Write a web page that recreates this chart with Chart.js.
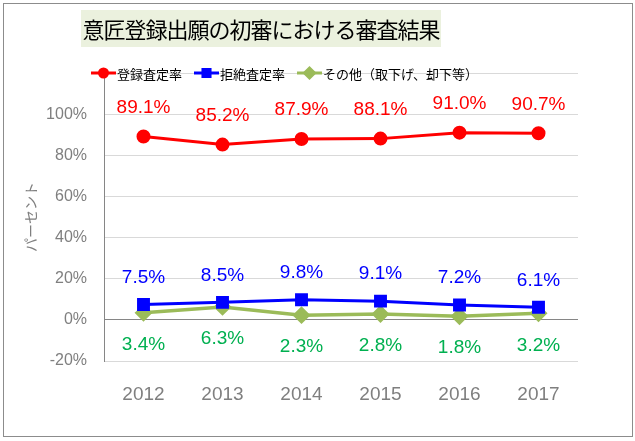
<!DOCTYPE html>
<html>
<head>
<meta charset="utf-8">
<script src="https://cdn.jsdelivr.net/npm/chart.js@4"></script>
<style>
  html, body { margin: 0; padding: 0; background: #fff; }
  #wrap { position: relative; width: 635px; height: 441px; }
  #frame { position: absolute; left: 3px; top: 3px; width: 628px; height: 432px;
           border: 1px solid #8c8c8c; pointer-events: none; }
  #title { position: absolute; left: 81px; top: 10px; width: 360px; height: 37px;
           background: #ebf1de; color: #000; font-family: "Noto Sans CJK JP", sans-serif;
           font-size: 22px; line-height: 37px; text-align: center; letter-spacing: -1px; }
</style>
</head>
<body>
<div id="wrap">
  <canvas id="resultChart" width="635" height="441"></canvas>
  <div id="title">意匠登録出願の初審における審査結果</div>
  <div id="frame"></div>
</div>
<script>
var years = ['2012', '2013', '2014', '2015', '2016', '2017'];
var registered = [89.1, 85.2, 87.9, 88.1, 91.0, 90.7];
var rejected = [7.5, 8.5, 9.8, 9.1, 7.2, 6.1];
var others = [3.4, 6.3, 2.3, 2.8, 1.8, 3.2];
var seriesNames = ['登録査定率', '拒絶査定率', 'その他（取下げ、却下等）'];

// value labels above / below each point
var valueLabels = {
    id: 'valueLabels',
    afterDatasetsDraw: function (chart) {
        var ctx = chart.ctx;
        ctx.save();
        ctx.font = '19px "Liberation Sans", Arial, sans-serif';
        ctx.textAlign = 'center';
        ctx.textBaseline = 'middle';
        chart.data.datasets.forEach(function (ds, i) {
            var meta = chart.getDatasetMeta(i);
            ctx.fillStyle = ds.labelColor;
            meta.data.forEach(function (pt, j) {
                ctx.fillText(ds.data[j].toFixed(1) + '%', pt.x, pt.y + ds.labelOffset);
            });
        });
        ctx.restore();
    }
};

// legend drawn across the top gridline, like the original
var lineLegend = {
    id: 'lineLegend',
    afterDraw: function (chart) {
        var ctx = chart.ctx;
        var x = 91, y = 73;
        ctx.save();
        ctx.font = '13px "Noto Sans CJK JP", sans-serif';
        ctx.textBaseline = 'middle';
        chart.data.datasets.forEach(function (ds) {
            ctx.strokeStyle = ds.borderColor;
            ctx.fillStyle = ds.borderColor;
            ctx.lineWidth = 3;
            ctx.beginPath();
            ctx.moveTo(x, y);
            ctx.lineTo(x + 25, y);
            ctx.stroke();
            Chart.helpers.drawPoint(ctx, {
                pointStyle: ds.pointStyle,
                radius: ds.pointStyle === 'circle' ? 4 : 5,
                borderWidth: 1
            }, x + 12.5, y);
            ctx.fillStyle = '#000';
            ctx.fillText(ds.label, x + 26, y + 1);
            x += 26 + ctx.measureText(ds.label).width + 12;
        });
        ctx.restore();
    }
};

var ctx = document.getElementById('resultChart');

var resultChart = new Chart(ctx, {
    type: 'line',
    data: {
        labels: years,
        datasets: [
            {
                label: seriesNames[0],
                data: registered,
                borderColor: '#ff0000',
                backgroundColor: '#ff0000',
                borderWidth: 3,
                pointStyle: 'circle',
                pointRadius: 5.5,
                labelColor: '#ff0000',
                labelOffset: -29
            },
            {
                label: seriesNames[1],
                data: rejected,
                borderColor: '#0000ff',
                backgroundColor: '#0000ff',
                borderWidth: 3,
                pointStyle: 'rect',
                pointRadius: 7,
                labelColor: '#0000ff',
                labelOffset: -27
            },
            {
                label: seriesNames[2],
                data: others,
                borderColor: '#9bbb59',
                backgroundColor: '#9bbb59',
                borderWidth: 3.5,
                pointStyle: 'rectRot',
                pointRadius: 6.5,
                labelColor: '#00b050',
                labelOffset: 32
            }
        ]
    },
    options: {
        responsive: false,
        animation: false,
        layout: {
            padding: { left: 18, top: 73, right: 57, bottom: 0 }
        },
        elements: {
            line: { tension: 0 },
            point: { borderWidth: 1, hoverRadius: 6 }
        },
        scales: {
            x: {
                offset: true,
                grid: { display: false, drawTicks: false },
                border: { display: false },
                ticks: {
                    color: '#7f7f7f',
                    padding: 22,
                    font: { size: 19, family: '"Liberation Sans", Arial, sans-serif' }
                },
                afterFit: function (scale) { scale.height = 80; }
            },
            y: {
                min: -20,
                max: 120,
                grid: {
                    drawTicks: false,
                    color: function (c) { return c.tick && c.tick.value === 0 ? '#868686' : '#d9d9d9'; }
                },
                border: { color: '#868686' },
                ticks: {
                    stepSize: 20,
                    color: '#7f7f7f',
                    padding: 17,
                    font: { size: 16, family: '"Liberation Sans", Arial, sans-serif' },
                    callback: function (v) { return v === 120 ? '' : v + '%'; }
                },
                title: {
                    display: true,
                    text: 'パーセント',
                    color: '#7f7f7f',
                    font: { size: 14, family: '"Noto Sans CJK JP", sans-serif' },
                    padding: { top: 4, bottom: 4 }
                },
                afterFit: function (scale) { scale.width = 86; }
            }
        },
        plugins: {
            legend: { display: false },
            title: { display: false },
            tooltip: { enabled: false }
        }
    },
    plugins: [valueLabels, lineLegend]
});
</script>
</body>
</html>
